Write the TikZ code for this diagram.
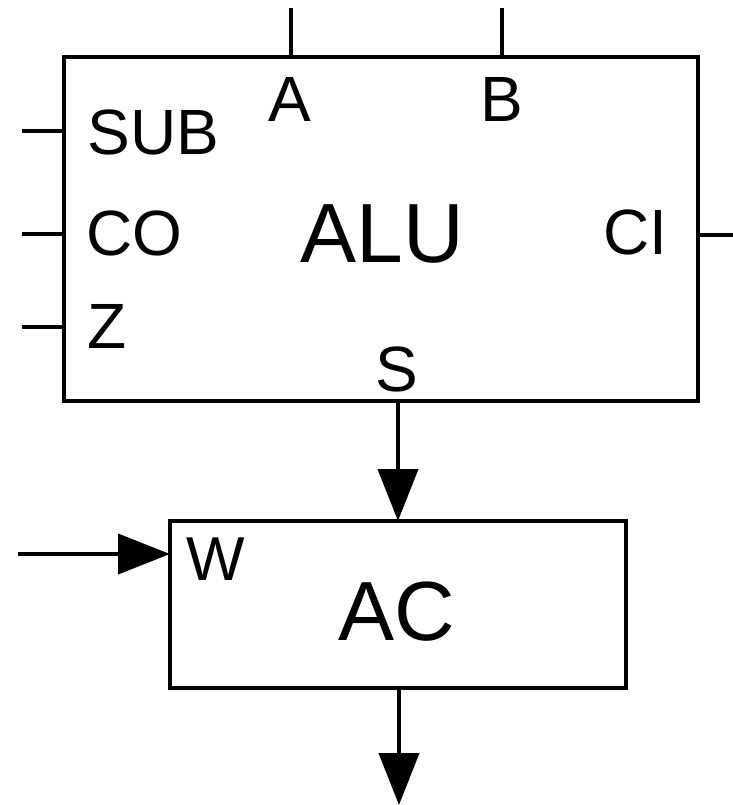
\documentclass[tikz,border=0pt]{standalone}
\usepackage{fontspec}
\setmainfont{Liberation Sans}
\usetikzlibrary{arrows.meta}
\begin{document}
\begin{tikzpicture}[x=0.5pt,y=-0.5pt,line width=2pt,
  blk/.style={draw,inner sep=0pt,outer sep=0pt},
  lbl/.style={inner sep=0pt,font=\fontsize{32pt}{34pt}\selectfont},
  big/.style={inner sep=0pt,font=\fontsize{42pt}{44pt}\selectfont},
  arr/.style={-{Triangle[length=26pt,width=20pt]}}]
\useasboundingbox (0,0) rectangle (733,805);
\node[blk,minimum width=317pt,minimum height=172pt] (alu) at (381,229) {};
\node[blk,minimum width=228pt,minimum height=83.5pt] (ac) at (398,604.5) {};
% labels
\node[lbl,anchor=base] (la) at (290,121) {A};
\node[lbl,anchor=base] (lb) at (502,121) {B};
\node[lbl,anchor=base west] (lsub) at (86,154) {SUB};
\node[lbl,anchor=base west] (lco) at (84,255) {CO};
\node[lbl,anchor=base west] (lz) at (85,348) {Z};
\node[big,anchor=base] (lalu) at (382,262) {ALU};
\node[lbl,anchor=base east] (lci) at (669,254) {CI};
\node[lbl,anchor=base] (ls) at (397,391) {S};
\node[lbl,anchor=base west,font=\fontsize{31pt}{33pt}\selectfont] (lw) at (184,580) {W};
\node[big,anchor=base] (lac) at (397,640) {AC};
% free ends
\coordinate (atop) at (291,8);
\coordinate (btop) at (502,8);
\coordinate (subl) at (22,131);
\coordinate (col) at (22,234);
\coordinate (zl) at (22,327);
\coordinate (cir) at (733,235);
\coordinate (wl) at (18,554);
\coordinate (outb) at (399,805);
% connectors
\draw (atop) -- (atop |- alu.north);
\draw (btop) -- (btop |- alu.north);
\draw (subl) -- (subl -| alu.west);
\draw (col) -- (col -| alu.west);
\draw (zl) -- (zl -| alu.west);
\draw (cir) -- (cir -| alu.east);
\draw[arr] (ac.north |- alu.south) -- (ac.north);
\draw[arr] (wl) -- (wl -| ac.west);
\draw[arr] (outb |- ac.south) -- (outb);
\end{tikzpicture}
\end{document}
